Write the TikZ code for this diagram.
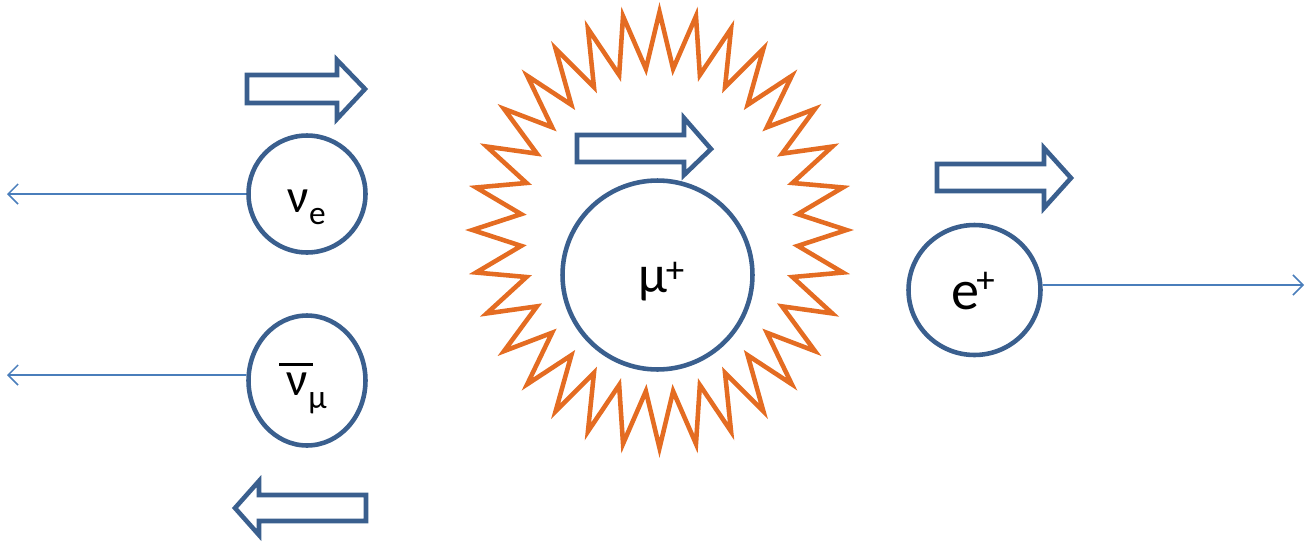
\documentclass[tikz,border=0pt]{standalone}
\usepackage{fontspec}
\setmainfont{Carlito}
\usetikzlibrary{arrows.meta,shapes.geometric}
\definecolor{cblue}{HTML}{3A5F8E}
\definecolor{lblue}{HTML}{4A7EBB}
\definecolor{sunorange}{HTML}{E46C22}
\begin{document}
\begin{tikzpicture}[x=0.02cm,y=-0.02cm,
  particle/.style={draw=cblue,line width=2.6pt,ellipse,inner sep=0pt},
  spinarrow/.style={draw=cblue,line width=2.6pt,line join=miter,fill=white},
  flight/.style={draw=lblue,line width=0.9pt,-{Straight Barb[length=0.2cm,width=0.4cm,line width=0.9pt]}},
  sunstyle/.style={draw=sunorange,line width=2.6pt,line join=miter,miter limit=20},
  lbl/.style={inner sep=0pt,anchor=base,text=black}]
\useasboundingbox (0,0) rectangle (1306,542);

% starburst
\draw[sunstyle] (659.5,12)
  \foreach \k in {0,...,31}{
    -- ({659.5+139*cos(90-\k*11.25-5.625)},{230-162*sin(90-\k*11.25-5.625)})
    -- ({659.5+187*cos(90-(\k+1)*11.25)},{230-218*sin(90-(\k+1)*11.25)})
  } -- cycle;

% particles
\node[particle,minimum width=2.34cm,minimum height=2.34cm] (ne) at (307,194) {};
\node[particle,minimum width=2.34cm,minimum height=2.60cm] (nm) at (307,380.5) {};
\node[particle,minimum width=3.80cm,minimum height=3.78cm] (mu) at (657.5,275) {};
\node[particle,minimum width=2.64cm,minimum height=2.60cm] (ep) at (974.5,290) {};

% flight directions
\coordinate (t1) at (7,194);
\coordinate (t2) at (7,375);
\coordinate (t3) at (1304,285);
\draw[flight] (ne.west) -- (t1);
\draw[flight] (nm.west |- t2) -- (t2);
\draw[flight] (ep.east |- t3) -- (t3);

% spin arrows
\draw[spinarrow] (247,75) -- (337,75) -- (337,60) -- (365,89) -- (337,119) -- (337,103) -- (247,103) -- cycle;
\draw[spinarrow] (366,495) -- (259,495) -- (259,481) -- (235,508) -- (259,535) -- (259,521) -- (366,521) -- cycle;
\draw[spinarrow] (577,135) -- (684,135) -- (684,118) -- (711,149) -- (684,175) -- (684,162) -- (577,162) -- cycle;
\draw[spinarrow] (937,164) -- (1044,164) -- (1044,148) -- (1071,178) -- (1044,208) -- (1044,191) -- (937,191) -- cycle;

% labels
\node[lbl,font=\fontsize{27}{30}\selectfont] (lne) at (298.5,212) {ν};
\node[lbl,font=\fontsize{19}{22}\selectfont] (lnes) at (317.5,224) {e};
\draw[black,line width=1.2pt] (279,364.5) -- (313,364.5);
\node[lbl,font=\fontsize{27}{30}\selectfont] (lnm) at (297.5,395) {ν};
\node[lbl,font=\fontsize{19}{22}\selectfont] (lnms) at (317.5,408) {μ};
\node[lbl,font=\fontsize{30}{34}\selectfont] (lmu) at (652.5,292) {μ};
\node[lbl,font=\fontsize{21}{24}\selectfont] (lmus) at (675,282) {+};
\node[lbl,font=\fontsize{32}{36}\selectfont] (lep) at (965,309) {e};
\node[lbl,font=\fontsize{21}{24}\selectfont] (leps) at (985.5,292) {+};
\end{tikzpicture}
\end{document}
